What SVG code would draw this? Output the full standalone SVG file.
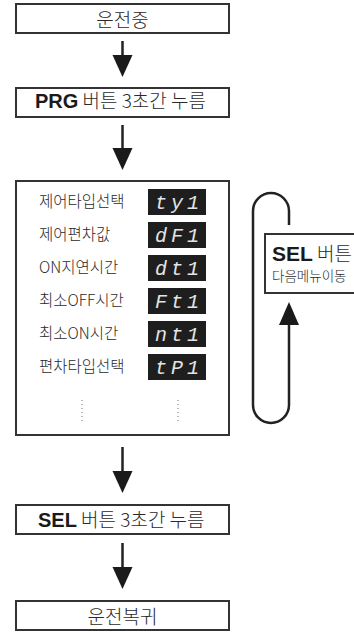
<svg xmlns="http://www.w3.org/2000/svg" width="354" height="632" viewBox="0 0 354 632">
<style>
.box{fill:#fff;stroke:#333;stroke-width:2}
.t{font-family:"Noto Sans CJK KR","Liberation Sans",sans-serif;font-weight:300;fill:#2a2a2a}
.b{font-family:"Liberation Sans","Noto Sans CJK KR",sans-serif;font-weight:bold;fill:#1a1a1a}
.lbl{font-family:"Noto Sans CJK KR","Liberation Sans",sans-serif;font-weight:300;font-size:15.5px;fill:#2a2a2a}
.disp{fill:#1e1e1e}
.seg{font-family:"Liberation Mono",monospace;font-style:italic;font-size:20px;fill:#e4e4e4;letter-spacing:4px}
.line{stroke:#222;stroke-width:2.5;fill:none}
.head{fill:#1a1a1a}
.dot{stroke:#777;stroke-width:1;stroke-dasharray:1 3}
</style>
<g id="connectors">
<line class="line" x1="122.5" y1="41" x2="122.5" y2="58"/>
<polygon class="head" points="112.5,55 132.5,55 122.5,77"/>
<line class="line" x1="122.5" y1="125" x2="122.5" y2="150"/>
<polygon class="head" points="112.5,148 132.5,148 122.5,170"/>
<line class="line" x1="122.5" y1="447" x2="122.5" y2="474"/>
<polygon class="head" points="112.5,471 132.5,471 122.5,493"/>
<line class="line" x1="122.5" y1="543" x2="122.5" y2="569"/>
<polygon class="head" points="112.5,567 132.5,567 122.5,589"/>
<path class="line" d="M289,225 V211 A18,18 0 0 0 253,211 V405 A18,18 0 0 0 289,405 V322"/>
<polygon class="head" points="289,302 279,325 299,325"/>
</g>
<g id="n1">
<rect class="box" x="16" y="4" width="213" height="29"/>
<text class="t" x="122.5" y="27" font-size="19" text-anchor="middle">운전중</text>
</g>
<g id="n2">
<rect class="box" x="16" y="88" width="213" height="29"/>
<text class="t" x="35" y="108" font-size="19"><tspan class="b" font-size="20">PRG</tspan> 버튼 3초간 누름</text>
</g>
<g id="n3">
<rect class="box" x="16" y="181" width="213" height="254"/>
<text class="lbl" x="39" y="207">제어타입선택</text>
<text class="lbl" x="39" y="240">제어편차값</text>
<text class="lbl" x="39" y="273">ON지연시간</text>
<text class="lbl" x="39" y="306">최소OFF시간</text>
<text class="lbl" x="39" y="339">최소ON시간</text>
<text class="lbl" x="39" y="372">편차타입선택</text>
<rect class="disp" x="148" y="189" width="58" height="26"/>
<rect class="disp" x="148" y="222" width="58" height="26"/>
<rect class="disp" x="148" y="255" width="58" height="26"/>
<rect class="disp" x="148" y="288" width="58" height="26"/>
<rect class="disp" x="148" y="321" width="58" height="26"/>
<rect class="disp" x="148" y="354" width="58" height="26"/>
<text class="seg" x="155" y="209">ty1</text>
<text class="seg" x="155" y="242">dF1</text>
<text class="seg" x="155" y="275">dt1</text>
<text class="seg" x="155" y="308">Ft1</text>
<text class="seg" x="155" y="341">nt1</text>
<text class="seg" x="155" y="374">tP1</text>
<line class="dot" x1="82" y1="400" x2="82" y2="422"/>
<line class="dot" x1="178" y1="400" x2="178" y2="422"/>
</g>
<g id="n4">
<rect class="box" x="265" y="234" width="95" height="59"/>
<text class="t" x="272" y="261" font-size="19"><tspan class="b" font-size="21">SEL</tspan> 버튼</text>
<text class="t" x="272" y="281" font-size="13.5">다음메뉴이동</text>
</g>
<g id="n5">
<rect class="box" x="16" y="505" width="213" height="29"/>
<text class="t" x="38" y="527" font-size="19"><tspan class="b" font-size="20">SEL</tspan> 버튼 3초간 누름</text>
</g>
<g id="n6">
<rect class="box" x="16" y="601" width="213" height="29"/>
<text class="t" x="122.5" y="624" font-size="19" text-anchor="middle">운전복귀</text>
</g>
</svg>
